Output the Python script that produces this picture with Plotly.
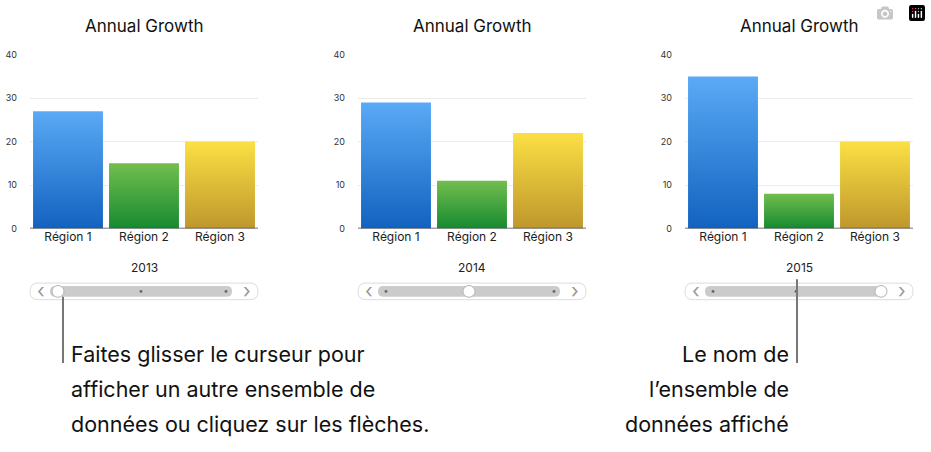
import plotly.graph_objects as go

W, H = 931, 452

# données
regions = ['Région 1', 'Région 2', 'Région 3']
years = ['2013', '2014', '2015']
values = {
    '2013': [27, 15, 20],
    '2014': [29, 11, 22],
    '2015': [35, 8, 20],
}
y_ticks = [0, 10, 20, 30, 40]
title_text = 'Annual Growth'

# couleurs des dégradés (bas, haut)
grad = [('#1262c0', '#5aaaf6'), ('#168a30', '#72be4e'), ('#bf972c', '#fbe044')]

# positions des graphiques en pixels
panels = [(30, 258), (358, 586), (685, 913)]
plot_top, plot_bottom = 50, 228

def px(x):
    return x / W

def py(y):
    return 1 - y / H

def rounded(x0, y0, x1, y1, r):
    # chemin d'un rectangle arrondi en coordonnées papier
    pts = []
    pts.append(f'M {px(x0 + r)},{py(y0)}')
    pts.append(f'L {px(x1 - r)},{py(y0)}')
    pts.append(f'Q {px(x1)},{py(y0)} {px(x1)},{py(y0 + r)}')
    pts.append(f'L {px(x1)},{py(y1 - r)}')
    pts.append(f'Q {px(x1)},{py(y1)} {px(x1 - r)},{py(y1)}')
    pts.append(f'L {px(x0 + r)},{py(y1)}')
    pts.append(f'Q {px(x0)},{py(y1)} {px(x0)},{py(y1 - r)}')
    pts.append(f'L {px(x0)},{py(y0 + r)}')
    pts.append(f'Q {px(x0)},{py(y0)} {px(x0 + r)},{py(y0)}')
    pts.append('Z')
    return ' '.join(pts)

def text(t, x, y, size, color='#111', xanchor='center'):
    return dict(text=t, x=px(x), y=py(y), xref='paper', yref='paper',
                xanchor=xanchor, yanchor='middle', showarrow=False,
                font=dict(size=size, color=color, family=font))

fig = go.Figure()
shapes = []
annotations = []
font = 'Inter'

for k, year in enumerate(years):
    xa = 'x' if k == 0 else f'x{k + 1}'
    ya = 'y' if k == 0 else f'y{k + 1}'
    for i, v in enumerate(values[year]):
        fig.add_trace(go.Scatter(
            x=[i - 0.46, i + 0.46, i + 0.46, i - 0.46, i - 0.46],
            y=[0, 0, v, v, 0],
            mode='lines', line=dict(width=0), fill='toself',
            fillgradient=dict(type='vertical',
                              colorscale=[[0, grad[i][0]], [1, grad[i][1]]]),
            xaxis=xa, yaxis=ya, showlegend=False, hoverinfo='skip'))
    x0, x1 = panels[k]
    lay_x = 'xaxis' if k == 0 else f'xaxis{k + 1}'
    lay_y = 'yaxis' if k == 0 else f'yaxis{k + 1}'
    fig.layout[lay_x] = dict(domain=[px(x0), px(x1)], range=[-0.5, 2.5],
                             tickvals=[0, 1, 2], ticktext=regions,
                             showgrid=False, zeroline=False, showline=False,
                             ticks='', tickfont=dict(size=12, color='#222'),
                             fixedrange=True, anchor=ya)
    fig.layout[lay_y] = dict(domain=[py(plot_bottom), py(plot_top)],
                             range=[0, 40], tickvals=y_ticks,
                             showgrid=True, gridcolor='#ececec',
                             zeroline=False, showline=False, ticks='',
                             ticklabelstandoff=12,
                             tickfont=dict(size=9, color='#333'),
                             fixedrange=True, anchor=xa)
    # ligne de base
    shapes.append(dict(type='line', xref=f'{xa} domain', yref=ya,
                       x0=0, x1=1, y0=0, y1=0,
                       line=dict(color='#444', width=1.2)))
    cx = (x0 + x1) / 2
    annotations.append(text(title_text, cx, 21, 17))
    annotations.append(text(year, cx, 268, 12, '#222'))
    # curseur
    shapes.append(dict(type='path', xref='paper', yref='paper',
                       path=rounded(x0, 284, x1, 301, 8),
                       line=dict(color='#dcdcdc', width=1), fillcolor='white'))
    tx0, tx1 = x0 + 20, x1 - 26
    shapes.append(dict(type='path', xref='paper', yref='paper',
                       path=rounded(tx0, 287, tx1, 298, 5.5),
                       line=dict(width=0), fillcolor='#cbcbcb'))
    stops = [tx0 + 8, (tx0 + tx1) / 2, tx1 - 6]
    for j, sx in enumerate(stops):
        if j == k:
            shapes.append(dict(type='circle', xref='paper', yref='paper',
                               x0=px(sx - 6), x1=px(sx + 6),
                               y0=py(298.5), y1=py(286.5),
                               line=dict(color='#b5b5b5', width=1),
                               fillcolor='white'))
        else:
            shapes.append(dict(type='circle', xref='paper', yref='paper',
                               x0=px(sx - 1.5), x1=px(sx + 1.5),
                               y0=py(294), y1=py(291), line=dict(width=0),
                               fillcolor='#666'))
    annotations.append(text('‹', x0 + 11, 292, 20, '#999'))
    annotations.append(text('›', x1 - 11, 292, 20, '#999'))

# lignes de rappel
shapes.append(dict(type='line', xref='paper', yref='paper', x0=px(63), x1=px(63),
                   y0=py(298), y1=py(366), line=dict(color='#777', width=2)))
shapes.append(dict(type='line', xref='paper', yref='paper', x0=px(797), x1=px(797),
                   y0=py(280), y1=py(366), line=dict(color='#777', width=2)))

left_text = ['Faites glisser le curseur pour', 'afficher un autre ensemble de',
             'données ou cliquez sur les flèches.']
right_text = ['Le nom de', 'l’ensemble de', 'données affiché']
for j, line in enumerate(left_text):
    annotations.append(text(line, 69, 357 + 35.5 * j, 21.5, xanchor='left'))
for j, line in enumerate(right_text):
    annotations.append(text(line, 791, 357 + 35.5 * j, 21.5, xanchor='right'))

fig.update_layout(width=W, height=H, margin=dict(l=0, r=0, t=0, b=0),
                  paper_bgcolor='white', plot_bgcolor='white',
                  shapes=shapes, annotations=annotations,
                  font=dict(family=font))

fig.write_html('out.html', post_script="document.body.style.margin='0';")
